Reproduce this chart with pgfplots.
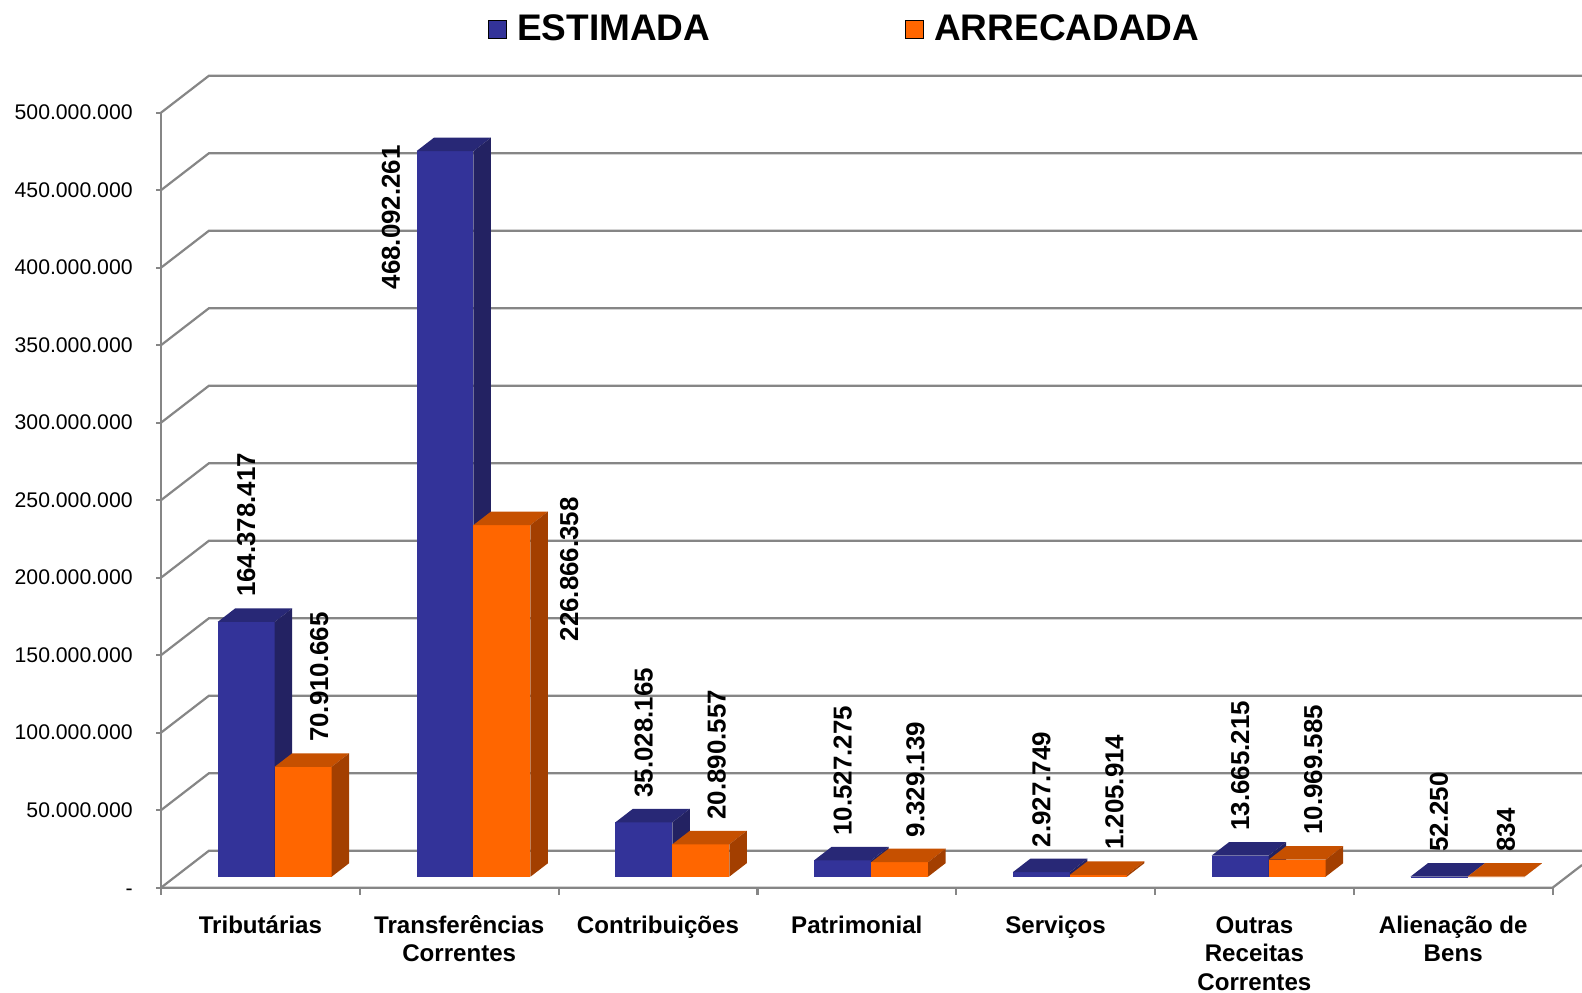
\documentclass[border=0pt]{standalone}
\usepackage{fontspec}
\setmainfont{Liberation Sans}
\usepackage{pgfplots}
\pgfplotsset{compat=1.18}
\definecolor{estfront}{RGB}{51,51,153}
\definecolor{esttop}{RGB}{40,40,118}
\definecolor{estside}{RGB}{35,34,98}
\definecolor{arrfront}{RGB}{255,102,0}
\definecolor{arrtop}{RGB}{198,80,0}
\definecolor{arrside}{RGB}{163,63,0}
\definecolor{gridc}{RGB}{134,134,134}
\tikzset{lbl/.style={rotate=90, inner sep=0pt, font=\fontsize{12.95}{15}\selectfont\bfseries},
  gl/.style={gridc, line width=1.1pt}}
% #1 category index, #2 0=estimada 1=arrecadada, #3 value (millions), #4 colour prefix,
% #5 label, #6 label anchor, #7 #8 label shift
\newcommand\cuboid[8]{%
  \pgfmathsetmacro\cxl{#1+0.2852+#2*0.2867}%
  \pgfmathsetmacro\cxr{\cxl+0.2867}%
  \pgfmathsetmacro\cxc{\cxl+0.14335}%
  \pgfmathsetmacro\cxlb{\cxl+0.0880}%
  \pgfmathsetmacro\cxrb{\cxr+0.0880}%
  \pgfmathsetmacro\cyt{#3+7.097}%
  \pgfmathsetmacro\cytb{\cyt+8.710}%
  \addplot[fill=#4front, draw=none, forget plot] coordinates {(\cxl,7.097) (\cxl,\cyt) (\cxr,\cyt) (\cxr,7.097)};
  \addplot[fill=#4top, draw=none, forget plot] coordinates {(\cxl,\cyt) (\cxlb,\cytb) (\cxrb,\cytb) (\cxr,\cyt)};
  \addplot[fill=#4side, draw=none, forget plot] coordinates {(\cxr,7.097) (\cxr,\cyt) (\cxrb,\cytb) (\cxrb,15.807)};
  \edef\dolabel{\noexpand\node[lbl, anchor=#6] at ([xshift=#7, yshift=#8]axis cs:\cxc,\cytb) {#5};}%
  \dolabel
}
\begin{document}
\begin{tikzpicture}
\begin{axis}[
  scale only axis, width=791pt, height=496.5pt,
  xmin=-0.80986, xmax=7.14789, ymin=-67.935, ymax=572.71,
  axis line style={draw=none}, tick style={draw=none},
  ytick={0,50,...,500},
  yticklabels={\smash{\raisebox{-4pt}{-}},50.000.000,100.000.000,150.000.000,200.000.000,250.000.000,300.000.000,350.000.000,400.000.000,450.000.000,500.000.000},
  yticklabel style={anchor=east, inner sep=0pt, xshift=66.5pt, font=\fontsize{10.6}{12}\selectfont},
  xtick={0.5,1.5,...,6.5},
  xticklabels={\strut Tributárias, {\strut Transferências\\Correntes}, \strut Contribuições, \strut Patrimonial, \strut Serviços, {\strut Outras\\Receitas\\Correntes}, {\strut Alienação de\\Bens}},
  xticklabel style={anchor=north, align=center, inner sep=0pt, yshift=39.75pt, font=\fontsize{12.05}{14.15}\selectfont\bfseries},
  legend columns=2,
  legend style={at={(0.5347,0.9708)}, anchor=center, draw=none, fill=none,
    font=\fontsize{18.5}{20}\selectfont\bfseries,
    /tikz/every even column/.append style={column sep=95.5pt}},
  legend image code/.code={\fill[#1] (0pt,-4.5pt) rectangle (9pt,4.5pt); \path (12pt,0pt);},
]
\addlegendimage{fill=estfront}
\addlegendentry{ESTIMADA}
\addlegendimage{fill=arrfront}
\addlegendentry{ARRECADADA}
% walls and grid
\pgfplotsinvokeforeach{0,50,...,500}{
  \draw[gl] (axis cs:0,#1) -- ++(24pt,18.5pt) -- ([yshift=18.5pt]axis cs:7.14789,#1);
  \draw[gl] (axis cs:0,#1) -- ++(-2.75pt,0pt);
}
\draw[gl] (axis cs:0,0) -- (axis cs:0,500);
\draw[gl] (axis cs:0,0) -- (axis cs:7,0) -- ++(14.7pt,11.33pt);
\pgfplotsinvokeforeach{0,...,7}{
  \draw[gl] (axis cs:#1,0) -- ++(0pt,-3.65pt);
}
% bars (values in millions)
\cuboid{0}{0}{164.378417}{est}{164.378.417}{west}{0pt}{5.5pt}
\cuboid{0}{1}{70.910665}{arr}{70.910.665}{west}{8pt}{5.5pt}
\cuboid{1}{0}{468.092261}{est}{468.092.261}{east}{-27.05pt}{-3.65pt}
\cuboid{1}{1}{226.866358}{arr}{226.866.358}{west}{33.65pt}{-65.05pt}
\cuboid{2}{0}{35.028165}{est}{35.028.165}{west}{0pt}{5.5pt}
\cuboid{2}{1}{20.890557}{arr}{20.890.557}{west}{8pt}{5.5pt}
\cuboid{3}{0}{10.527275}{est}{10.527.275}{west}{0pt}{5.5pt}
\cuboid{3}{1}{9.329139}{arr}{9.329.139}{west}{8pt}{5.5pt}
\cuboid{4}{0}{2.927749}{est}{2.927.749}{west}{0pt}{5.5pt}
\cuboid{4}{1}{1.205914}{arr}{1.205.914}{west}{8pt}{5.5pt}
\cuboid{5}{0}{13.665215}{est}{13.665.215}{west}{0pt}{5.5pt}
\cuboid{5}{1}{10.969585}{arr}{10.969.585}{west}{8pt}{5.5pt}
\cuboid{6}{0}{0.05225}{est}{52.250}{west}{0pt}{5.5pt}
\cuboid{6}{1}{0.000834}{arr}{834}{west}{5pt}{5.5pt}
\end{axis}
\pgfresetboundingbox
\path (current axis.south west) rectangle (current axis.north east);
\end{tikzpicture}
\end{document}
